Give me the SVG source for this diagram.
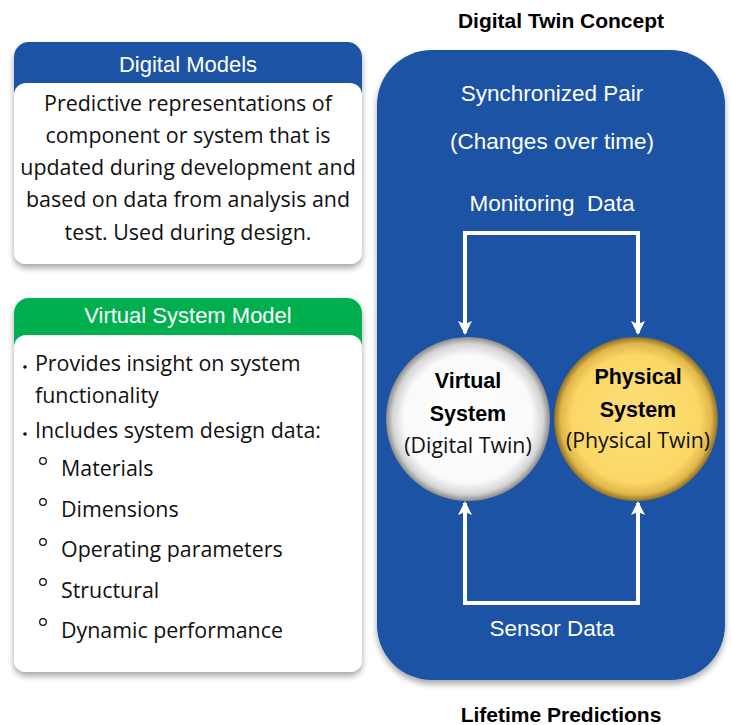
<svg xmlns="http://www.w3.org/2000/svg" width="731" height="725" viewBox="0 0 731 725">
<defs>
<style>
.hdr{font-family:"Liberation Sans",Arial,sans-serif;font-size:22px;fill:#fff;text-anchor:middle}
.body{font-family:"Open Sans","DejaVu Sans",sans-serif;font-size:21.4px;fill:#111}
.ctr{text-anchor:middle}
.title{font-family:"Liberation Sans",Arial,sans-serif;font-size:21px;font-weight:bold;fill:#000;text-anchor:middle}
.wt{font-family:"Liberation Sans",Arial,sans-serif;font-size:22.5px;fill:#fff;text-anchor:middle}
.cb{font-family:"Liberation Sans",Arial,sans-serif;font-size:21.5px;font-weight:bold;fill:#000;text-anchor:middle}
.cn{font-family:"Open Sans","DejaVu Sans",sans-serif;font-size:21.3px;fill:#111;text-anchor:middle}
.conn{fill:none;stroke:#fff;stroke-width:4;stroke-linejoin:miter}
</style>
<filter id="sh" x="-10%" y="-10%" width="120%" height="125%">
<feDropShadow dx="0" dy="4" stdDeviation="3" flood-color="#000" flood-opacity="0.35"/>
</filter>
<radialGradient id="gw" cx="0.5" cy="0.5" r="0.5">
<stop offset="0" stop-color="#fff"/>
<stop offset="0.78" stop-color="#fafafa"/>
<stop offset="0.92" stop-color="#d4d4d4"/>
<stop offset="1" stop-color="#8a8a8a"/>
</radialGradient>
<radialGradient id="gy" cx="0.5" cy="0.5" r="0.5">
<stop offset="0" stop-color="#fde07a"/>
<stop offset="0.78" stop-color="#fbd766"/>
<stop offset="0.92" stop-color="#e0b64a"/>
<stop offset="1" stop-color="#8c7026"/>
</radialGradient>
<marker id="ah" viewBox="0 0 14 14" refX="12" refY="7" markerWidth="14" markerHeight="14" markerUnits="userSpaceOnUse" orient="auto-start-reverse">
<path d="M0,0 L14,7 L0,14 L3,7 Z" fill="#fff"/>
</marker>
</defs>
<rect width="731" height="725" fill="#fff"/>

<g id="digital-models">
<g filter="url(#sh)">
<rect x="14" y="42" width="348" height="222" rx="15" fill="#1a52a5"/>
<rect x="14" y="83" width="348" height="181" rx="12" fill="#fff"/>
</g>
<text class="hdr" x="188" y="72">Digital Models</text>
<text class="body ctr" x="188" y="111">Predictive representations of</text>
<text class="body ctr" x="188" y="143">component or system that is</text>
<text class="body ctr" x="188" y="175">updated during development and</text>
<text class="body ctr" x="188" y="207">based on data from analysis and</text>
<text class="body ctr" x="188" y="240">test. Used during design.</text>
</g>

<g id="virtual-system-model">
<g filter="url(#sh)">
<rect x="14" y="298" width="348" height="374" rx="15" fill="#00b050"/>
<rect x="14" y="335" width="348" height="337" rx="12" fill="#fff"/>
</g>
<text class="hdr" x="188" y="323">Virtual System Model</text>
<circle cx="25" cy="367" r="1.8" fill="#111"/>
<circle cx="25" cy="434" r="1.8" fill="#111"/>
<text class="body" x="35" y="371">Provides insight on system</text>
<text class="body" x="35" y="403">functionality</text>
<text class="body" x="35" y="438">Includes system design data:</text>
<g fill="none" stroke="#111" stroke-width="1.3">
<circle cx="43" cy="461" r="3.3"/>
<circle cx="43" cy="502" r="3.3"/>
<circle cx="43" cy="542" r="3.3"/>
<circle cx="43" cy="582" r="3.3"/>
<circle cx="43" cy="622" r="3.3"/>
</g>
<text class="body" x="61" y="476">Materials</text>
<text class="body" x="61" y="517">Dimensions</text>
<text class="body" x="61" y="557">Operating parameters</text>
<text class="body" x="61" y="598">Structural</text>
<text class="body" x="61" y="638">Dynamic performance</text>
</g>

<g id="digital-twin-concept">
<text class="title" x="561" y="28">Digital Twin Concept</text>
<rect x="377" y="50" width="348" height="630" rx="55" fill="#1a52a5" filter="url(#sh)"/>
<text class="wt" x="552" y="101">Synchronized Pair</text>
<text class="wt" x="552" y="149">(Changes over time)</text>
<text class="wt" x="552" y="211" xml:space="preserve">Monitoring  Data</text>
<text class="wt" x="552" y="636">Sensor Data</text>
</g>

<g id="connectors">
<path class="conn" d="M638,233 H465 V333" marker-end="url(#ah)"/>
<path class="conn" d="M638,231 V333" marker-end="url(#ah)"/>
<path class="conn" d="M465,503 V603 H638 V503" marker-start="url(#ah)" marker-end="url(#ah)"/>
</g>

<g id="virtual-system">
<circle cx="468" cy="419" r="82" fill="url(#gw)"/>
<text class="cb" x="468" y="388">Virtual</text>
<text class="cb" x="468" y="421">System</text>
<text class="cn" x="468" y="453">(Digital Twin)</text>
</g>

<g id="physical-system">
<circle cx="636" cy="419" r="82" fill="url(#gy)"/>
<text class="cb" x="638" y="384">Physical</text>
<text class="cb" x="638" y="417">System</text>
<text class="cn" x="638" y="448">(Physical Twin)</text>
</g>

<g id="lifetime">
<text class="title" x="561" y="722">Lifetime Predictions</text>
</g>
</svg>
